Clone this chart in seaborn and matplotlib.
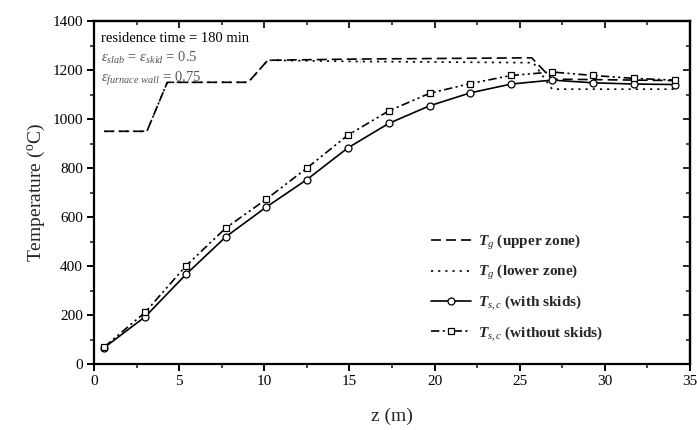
import matplotlib
matplotlib.use("Agg")
import matplotlib.pyplot as plt
import seaborn as sns
import pandas as pd
from matplotlib.ticker import MultipleLocator, NullFormatter

# Slab centre temperature, sampled every ~2.4 m along the furnace
z_slab = [0.6, 3.0, 5.4, 7.75, 10.1, 12.5, 14.9, 17.3, 19.7, 22.1, 24.5, 26.9, 29.3, 31.7, 34.1]
t_with_skids = [67, 193, 366, 520, 640, 753, 882, 982, 1054, 1107, 1143, 1159, 1148, 1143, 1141]
t_without_skids = [70, 211, 401, 556, 672, 800, 934, 1033, 1105, 1145, 1178, 1192, 1178, 1166, 1159]

# Gas temperature set-points, upper and lower zones
z_gas_upper = [0.6, 3.1, 4.3, 9.05, 10.2, 15.6, 15.6, 25.7, 26.9, 34.2]
t_gas_upper = [950, 950, 1150, 1150, 1240, 1240, 1250, 1250, 1163, 1157]
z_gas_lower = [0.6, 3.1, 4.3, 9.05, 10.2, 15.6, 15.6, 25.8, 26.9, 34.2]
t_gas_lower = [950, 950, 1150, 1150, 1240, 1240, 1230, 1230, 1122, 1122]

sns.set_style("ticks")
plt.rcParams["font.family"] = ["Liberation Serif", "DejaVu Serif"]
plt.rcParams["mathtext.fontset"] = "custom"
plt.rcParams["mathtext.rm"] = "Liberation Serif"
plt.rcParams["mathtext.it"] = "Liberation Serif:italic"
plt.rcParams["mathtext.bf"] = "Liberation Serif:italic:bold"

fig = plt.figure(figsize=(6.97, 4.30), dpi=100)
ax = fig.add_axes([0.135, 0.1535, 0.855, 0.7975])

upper = pd.DataFrame({"z": z_gas_upper, "T": t_gas_upper})
lower = pd.DataFrame({"z": z_gas_lower, "T": t_gas_lower})
with_sk = pd.DataFrame({"z": z_slab, "T": t_with_skids})
without_sk = pd.DataFrame({"z": z_slab, "T": t_without_skids})

lw = 1.2
sns.lineplot(data=upper, x="z", y="T", ax=ax, color="black", lw=lw,
             linestyle=(0, (6, 3)), sort=False,
             label=r"$\mathbf{T}_{g}$ (upper zone)")
sns.lineplot(data=lower, x="z", y="T", ax=ax, color="black", lw=lw,
             linestyle=(0, (1.3, 3)), sort=False,
             label=r"$\mathbf{T}_{g}$ (lower zone)")
sns.lineplot(data=with_sk, x="z", y="T", ax=ax, color="black", lw=lw,
             marker="o", markersize=5, markerfacecolor="white",
             markeredgecolor="black", markeredgewidth=0.9,
             label=r"$\mathbf{T}_{s,c}$ (with skids)")
sns.lineplot(data=without_sk, x="z", y="T", ax=ax, color="black", lw=lw,
             linestyle=(0, (5, 2, 1.3, 2, 1.3, 2)),
             marker="s", markersize=4.5, markerfacecolor="white",
             markeredgecolor="black", markeredgewidth=0.9,
             label=r"$\mathbf{T}_{s,c}$ (without skids)")

ax.set_xlim(0, 35)
ax.set_ylim(0, 1400)
ax.xaxis.set_major_locator(MultipleLocator(5))
ax.xaxis.set_minor_locator(MultipleLocator(2.5))
ax.yaxis.set_major_locator(MultipleLocator(200))
ax.yaxis.set_minor_locator(MultipleLocator(100))

for side in ["left", "right", "top", "bottom"]:
    ax.spines[side].set_visible(True)
    ax.spines[side].set_linewidth(1.6)
    ax.spines[side].set_color("black")

ax.tick_params(axis="both", which="major", direction="out", length=5, width=1.4,
               labelsize=11, colors="black", pad=3)
ax.tick_params(axis="both", which="minor", direction="out", length=3, width=1.2)

# mirrored axes on top and right with inward ticks, no labels
top = ax.secondary_xaxis("top")
top.xaxis.set_major_locator(MultipleLocator(5))
top.xaxis.set_minor_locator(MultipleLocator(2.5))
top.xaxis.set_major_formatter(NullFormatter())
top.tick_params(which="major", direction="in", length=5, width=1.4)
top.tick_params(which="minor", direction="in", length=3, width=1.2)
top.spines["top"].set_linewidth(1.6)

right = ax.secondary_yaxis("right")
right.yaxis.set_major_locator(MultipleLocator(200))
right.yaxis.set_minor_locator(MultipleLocator(100))
right.yaxis.set_major_formatter(NullFormatter())
right.tick_params(which="major", direction="in", length=5, width=1.4)
right.tick_params(which="minor", direction="in", length=3, width=1.2)
right.spines["right"].set_linewidth(1.6)

ax.set_xlabel("z (m)", fontsize=14, labelpad=14)
ax.set_ylabel("Temperature ($^{\\mathrm{o}}$C)", fontsize=14, labelpad=4)

ax.text(0.012, 0.968, "residence time = 180 min", transform=ax.transAxes,
        fontsize=10.5, va="top", ha="left", color="black")
ax.text(0.012, 0.915, r"$\varepsilon_{slab}$ = $\varepsilon_{skid}$ = 0.5",
        transform=ax.transAxes, fontsize=10.5, va="top", ha="left", color="#555555")
ax.text(0.012, 0.858, r"$\varepsilon_{furnace\ wall}$ = 0.75",
        transform=ax.transAxes, fontsize=10.5, va="top", ha="left", color="#555555")

leg = ax.legend(loc="upper left", bbox_to_anchor=(0.555, 0.40), frameon=False,
                fontsize=11, handlelength=2.6, handletextpad=0.5,
                labelspacing=0.75, borderaxespad=0)
for txt in leg.get_texts():
    txt.set_fontweight("bold")

fig.savefig("out.png", dpi=100)
